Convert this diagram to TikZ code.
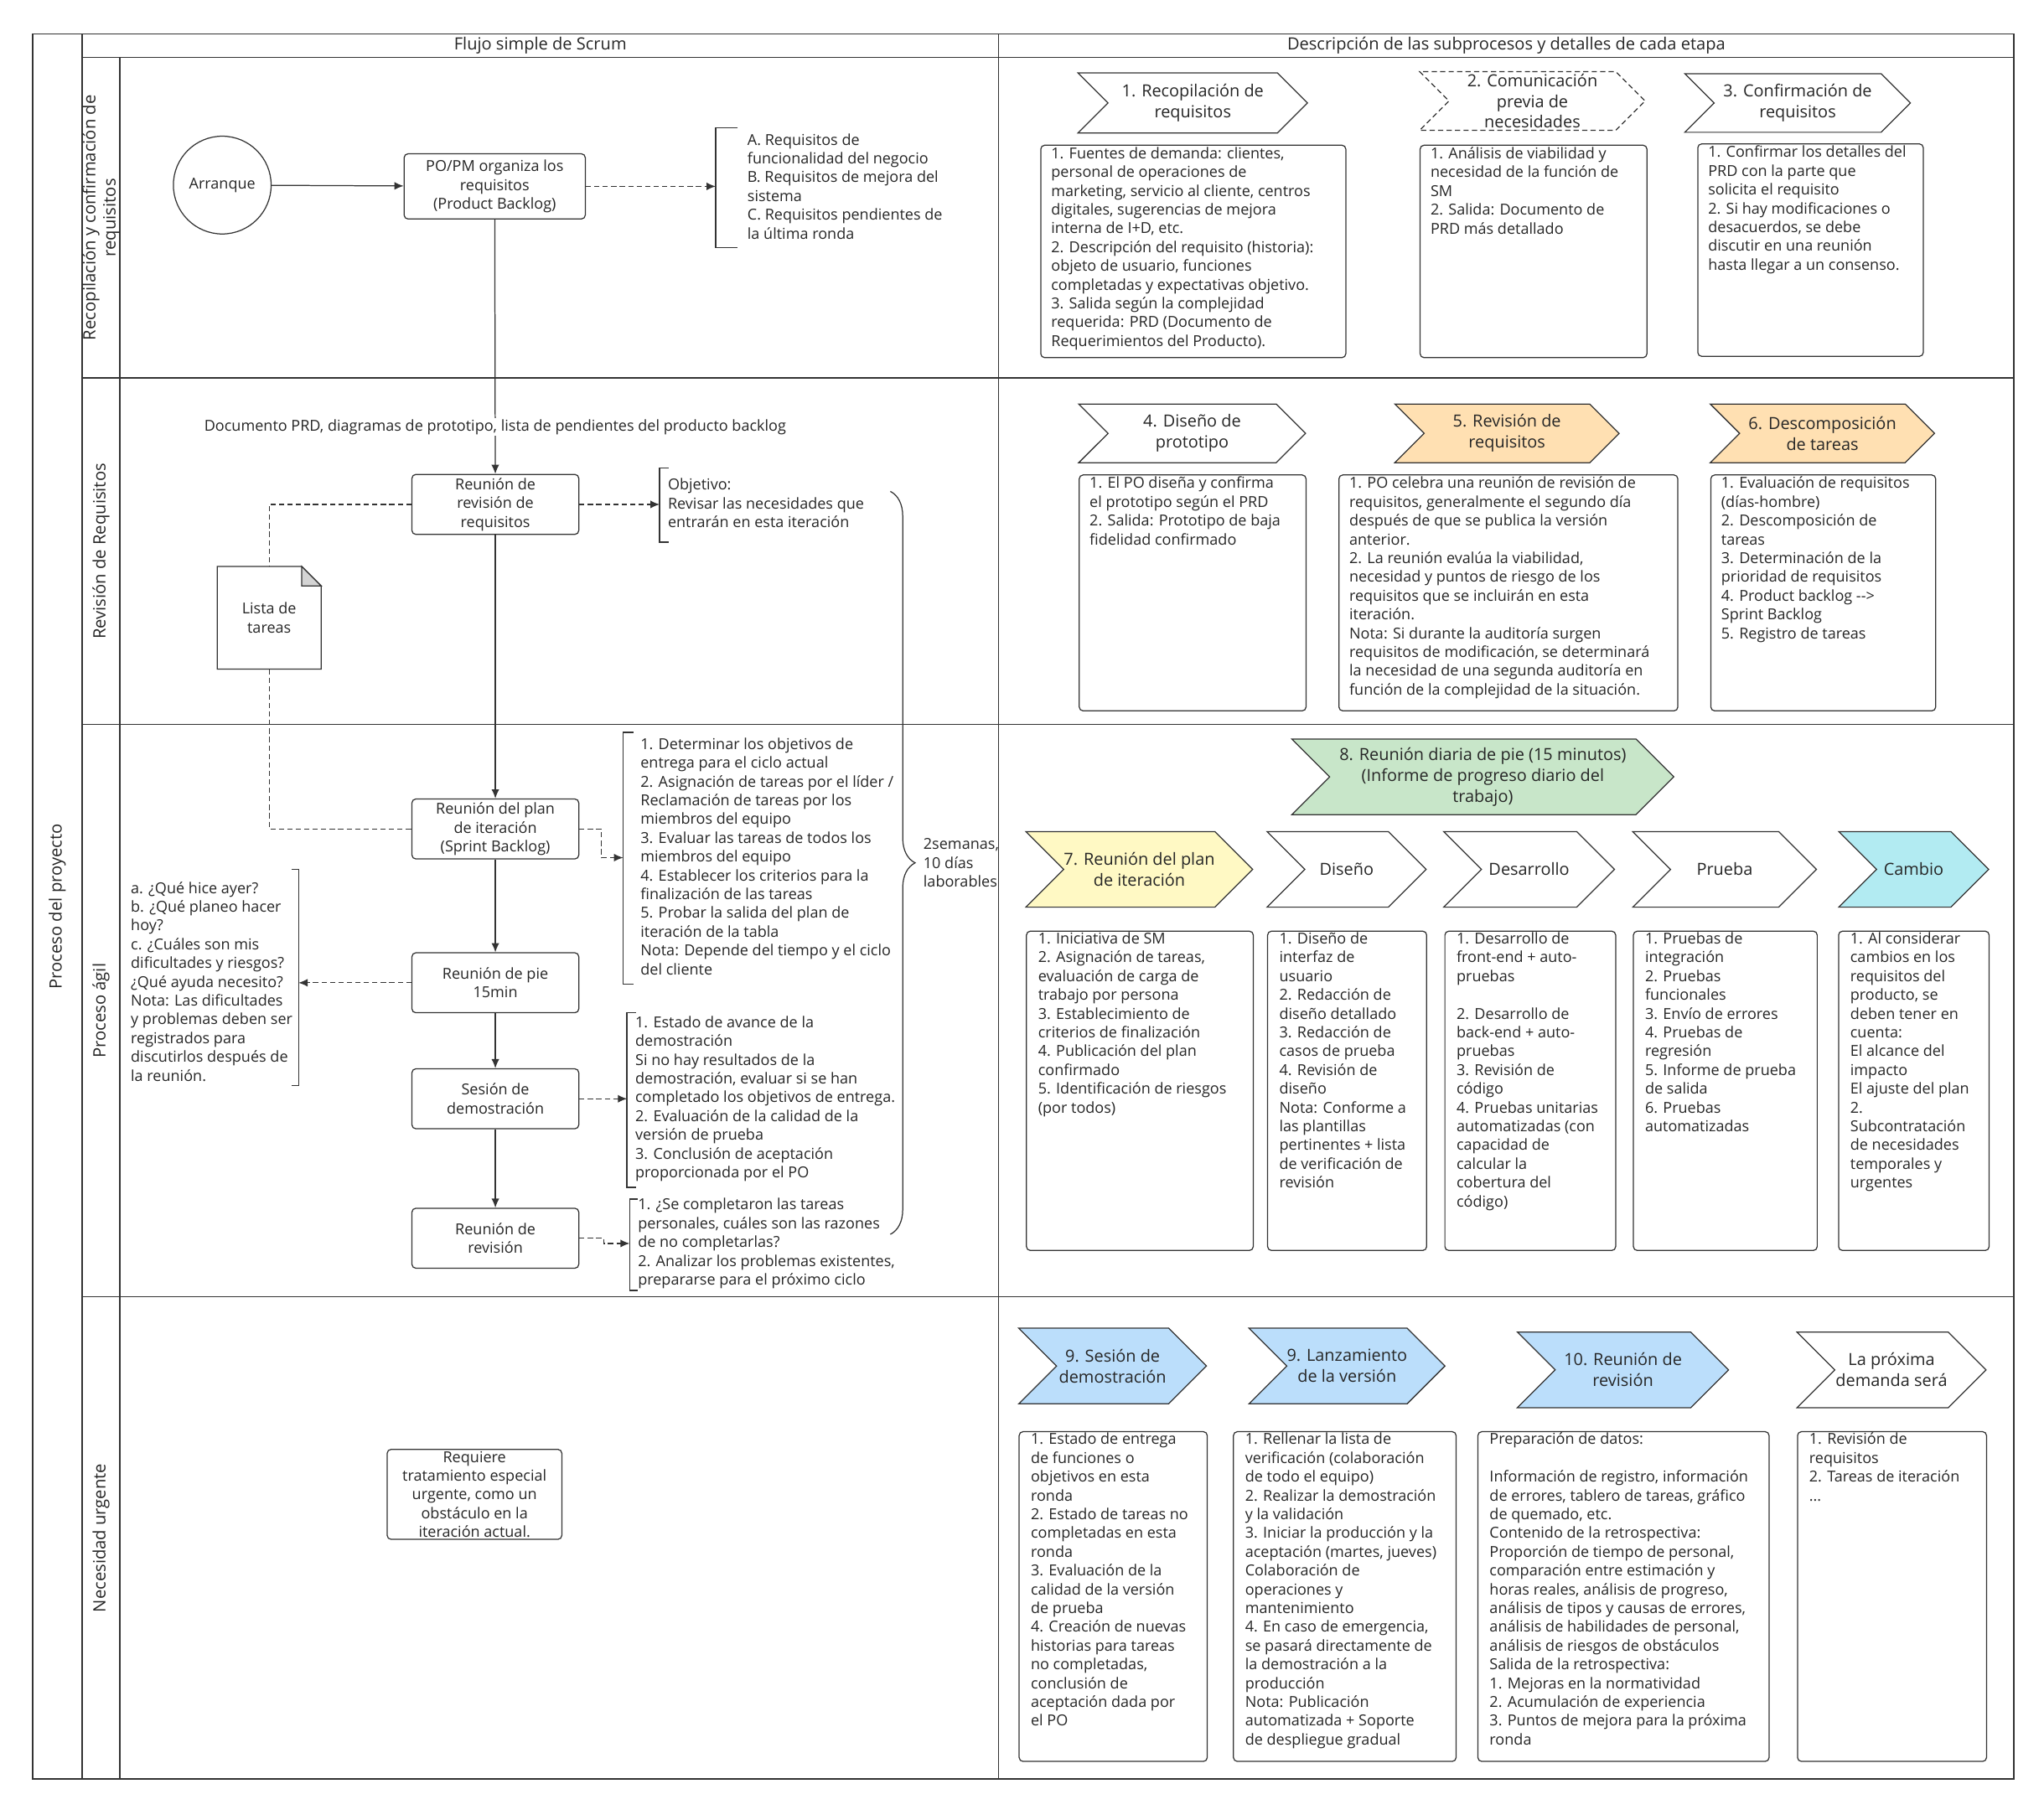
\documentclass[tikz,border=0pt]{standalone}
\usepackage{fontspec}
\setmainfont{Open Sans}
\usetikzlibrary{arrows.meta,shapes.symbols,decorations.pathreplacing,positioning}

\definecolor{lineclr}{HTML}{333333}
\definecolor{txtclr}{HTML}{262626}
\definecolor{peach}{HTML}{FFE0B2}
\definecolor{mint}{HTML}{C8E6C9}
\definecolor{lemon}{HTML}{FFF9C4}
\definecolor{aqua}{HTML}{B2EBF2}
\definecolor{sky}{HTML}{BBDEFB}
\definecolor{foldclr}{HTML}{D4D4D4}

\begin{document}
\begin{tikzpicture}
  [
  x=1pt, y=-1pt, line width=0.8pt, text=txtclr,
  font=\fontsize{11.6}{14.4}\selectfont,
  flowbox/.style={rectangle, rounded corners=3pt, draw=lineclr, fill=white, minimum width=128pt, minimum height=46pt, align=center, inner sep=1pt},
  chev/.style={signal, signal from=west, signal to=east, draw=lineclr, fill=white, align=center, inner sep=0pt, font=\fontsize{12.8}{16}\selectfont},
  descbox/.style={rectangle, rounded corners=3pt, draw=lineclr, inner sep=0pt, anchor=north west},
  desctxt/.style={anchor=north west, align=left, inner sep=0pt},
  bracetxt/.style={anchor=west, align=left, inner sep=0pt},
  lanetxt/.style={rotate=90, align=center, font=\fontsize{13}{15.5}\selectfont},
  flow/.style={draw=lineclr, -{Latex[length=7pt,width=6pt]}},
  dflow/.style={flow, dash pattern=on 4pt off 2.5pt},
  dline/.style={draw=lineclr, dash pattern=on 4pt off 2.5pt},
  bracket/.style={draw=lineclr, line width=0.9pt},
  ]

\useasboundingbox (0,0) rectangle (1568,1396);

% swimlanes
\draw[lineclr, line width=1pt] (25,26) rectangle (1545,1365);
\draw[lineclr, line width=1pt] (63,26) -- (63,1365);
\draw[lineclr] (63,44) -- (1545,44);
\draw[lineclr] (92,44) -- (92,1365);
\draw[lineclr] (766,26) -- (766,1365);
\foreach \y in {290,556,995} {
  \draw[lineclr] (63,\y) -- (1545,\y);
}

\node[font=\fontsize{12.9}{15}\selectfont] (hdl) at (414.5,35) {Flujo simple de Scrum};
\node[font=\fontsize{12.9}{15}\selectfont] (hdr) at (1155.5,35) {Descripción de las subprocesos y detalles de cada etapa};
\node[lanetxt] (proj) at (44,695.5) {Proceso del proyecto};
\node[lanetxt] (lane1) at (77.5,167) {Recopilación y confirmación de\\requisitos};
\node[lanetxt] (lane2) at (77.5,423) {Revisión de Requisitos};
\node[lanetxt] (lane3) at (77.5,775.5) {Proceso ágil};
\node[lanetxt] (lane4) at (77.5,1180) {Necesidad urgente};

% flujo simple
\node[circle, draw=lineclr, minimum size=75pt, inner sep=0pt] (start) at (170.5,142) {Arranque};
\node[flowbox, minimum width=139pt, minimum height=50pt] (popm) at (379.5,143) {PO/PM organiza los\\requisitos\\(Product Backlog)};
\node[bracetxt] (reqs) at (573,143) {A. Requisitos de\\funcionalidad del negocio\\B. Requisitos de mejora del\\sistema\\C. Requisitos pendientes de\\la última ronda};
\coordinate (b1) at (549,143);
\draw[bracket] (566,98) -| (549,190) -- (566,190);

\node[flowbox] (rev) at (380,387) {Reunión de\\revisión de\\requisitos};
\node[bracetxt] (goal) at (512,386) {Objetivo:\\Revisar las necesidades que\\entrarán en esta iteración};
\coordinate (b2) at (506,387);
\draw[bracket] (513,359) -| (506,416) -- (513,416);

\node[minimum width=79pt, minimum height=78pt, align=center, inner sep=0pt] (tl) at (206.5,474) {Lista de\\tareas};
\draw[lineclr] (tl.north west) -- ([xshift=-15pt]tl.north east) -- ([yshift=-15pt]tl.north east) -- (tl.south east) -- (tl.south west) -- cycle;
\draw[lineclr, fill=foldclr] ([xshift=-15pt]tl.north east) -- ([xshift=-15pt,yshift=-15pt]tl.north east) -- ([yshift=-15pt]tl.north east) -- cycle;

\node[flowbox] (plan) at (380,636) {Reunión del plan\\de iteración\\(Sprint Backlog)};
\node[bracetxt] (planlst) at (491,657) {1. Determinar los objetivos de\\entrega para el ciclo actual\\2. Asignación de tareas por el líder /\\Reclamación de tareas por los\\miembros del equipo\\3. Evaluar las tareas de todos los\\miembros del equipo\\4. Establecer los criterios para la\\finalización de las tareas\\5. Probar la salida del plan de\\iteración de la tabla\\Nota: Depende del tiempo y el ciclo\\del cliente};
\coordinate (b3) at (478,658);
\draw[bracket] (486,562) -| (478,755) -- (486,755);

\node[flowbox] (standup) at (380,754) {Reunión de pie\\15min};
\node[bracetxt] (questions) at (100,753) {a. ¿Qué hice ayer?\\b. ¿Qué planeo hacer\\hoy?\\c. ¿Cuáles son mis\\dificultades y riesgos?\\¿Qué ayuda necesito?\\Nota: Las dificultades\\y problemas deben ser\\registrados para\\discutirlos después de\\la reunión.};
\coordinate (b4) at (229,754);
\draw[bracket] (224,667) -| (229,833) -- (224,833);

\node[flowbox] (demo) at (380,843) {Sesión de\\demostración};
\node[bracetxt] (demolst) at (487,843) {1. Estado de avance de la\\demostración\\Si no hay resultados de la\\demostración, evaluar si se han\\completado los objetivos de entrega.\\2. Evaluación de la calidad de la\\versión de prueba\\3. Conclusión de aceptación\\proporcionada por el PO};
\coordinate (b5) at (481,843);
\draw[bracket] (488,777) -| (481,911) -- (488,911);

\node[flowbox] (review) at (380,950) {Reunión de\\revisión};
\node[bracetxt] (revlst) at (489,954) {1. ¿Se completaron las tareas\\personales, cuáles son las razones\\de no completarlas?\\2. Analizar los problemas existentes,\\prepararse para el próximo ciclo};
\coordinate (b6) at (483,954);
\draw[bracket] (489,920) -| (483,990) -- (489,990);

\draw[lineclr, decorate, decoration={brace, amplitude=19pt}] (683,377) -- (683,947);
\node[bracetxt] (dur) at (708,662) {2semanas,\\10 días\\laborables};

\node[flowbox, minimum width=134pt, minimum height=69pt] (urg) at (364,1146.5) {Requiere\\tratamiento especial\\urgente, como un\\obstáculo en la\\iteración actual.};

\draw[flow] (start) -- (popm);
\draw[dflow] (popm) -- (b1);
\draw[flow] (popm) -- node[pos=0.816, fill=white, inner sep=1pt] (prd) {Documento PRD, diagramas de prototipo, lista de pendientes del producto backlog} (rev);
\draw[dflow] (rev) -- (b2);
\draw[dline] (rev.west) -| (tl.north);
\draw[dline] (tl.south) |- (plan.west);
\draw[flow] (rev) -- (plan);
\draw[dflow] (plan.east) -- ++(17,0) |- (b3);
\draw[flow] (plan) -- (standup);
\draw[dflow] (standup) -- (b4);
\draw[flow] (standup) -- (demo);
\draw[dflow] (demo) -- (b5);
\draw[flow] (demo) -- (review);
\draw[dflow] (review.east) -- ++(19,0) |- (b6);

% etapas
\node[chev, minimum width=176pt, minimum height=46pt] (s1) at (915,79) {1. Recopilación de\\requisitos};
\node[chev, minimum width=173pt, minimum height=45pt, dash pattern=on 4pt off 2.5pt] (s2) at (1175.5,77.5) {2. Comunicación\\previa de\\necesidades};
\node[chev, minimum width=173pt, minimum height=45pt] (s3) at (1379,79) {3. Confirmación de\\requisitos};

\node[descbox, minimum width=234pt, minimum height=163pt] (d1) at (798,111) {};
\node[desctxt] (d1t) at ([xshift=8pt,yshift=-1.5pt]d1.north west) {1. Fuentes de demanda: clientes,\\personal de operaciones de\\marketing, servicio al cliente, centros\\digitales, sugerencias de mejora\\interna de I+D, etc.\\2. Descripción del requisito (historia):\\objeto de usuario, funciones\\completadas y expectativas objetivo.\\3. Salida según la complejidad\\requerida: PRD (Documento de\\Requerimientos del Producto).};
\node[descbox, minimum width=174pt, minimum height=163pt] (d2) at (1089,111) {};
\node[desctxt] (d2t) at ([xshift=8pt,yshift=-1.5pt]d2.north west) {1. Análisis de viabilidad y\\necesidad de la función de\\SM\\2. Salida: Documento de\\PRD más detallado};
\node[descbox, minimum width=173pt, minimum height=163pt] (d3) at (1302,110) {};
\node[desctxt] (d3t) at ([xshift=8pt,yshift=-1.5pt]d3.north west) {1. Confirmar los detalles del\\PRD con la parte que\\solicita el requisito\\2. Si hay modificaciones o\\desacuerdos, se debe\\discutir en una reunión\\hasta llegar a un consenso.};

\node[chev, minimum width=174pt, minimum height=45pt] (s4) at (914.5,332.5) {4. Diseño de\\prototipo};
\node[chev, minimum width=172pt, minimum height=45pt, fill=peach] (s5) at (1156,332.5) {5. Revisión de\\requisitos};
\node[chev, minimum width=172pt, minimum height=45pt, fill=peach] (s6) at (1398,332.5) {6. Descomposición\\de tareas};

\node[descbox, minimum width=174pt, minimum height=181pt] (d4) at (827.5,364) {};
\node[desctxt] (d4t) at ([xshift=8pt,yshift=-1.5pt]d4.north west) {1. El PO diseña y confirma\\el prototipo según el PRD\\2. Salida: Prototipo de baja\\fidelidad confirmado};
\node[descbox, minimum width=260pt, minimum height=181pt] (d5) at (1026.7,364) {};
\node[desctxt] (d5t) at ([xshift=8pt,yshift=-1.5pt]d5.north west) {1. PO celebra una reunión de revisión de\\requisitos, generalmente el segundo día\\después de que se publica la versión\\anterior.\\2. La reunión evalúa la viabilidad,\\necesidad y puntos de riesgo de los\\requisitos que se incluirán en esta\\iteración.\\Nota: Si durante la auditoría surgen\\requisitos de modificación, se determinará\\la necesidad de una segunda auditoría en\\función de la complejidad de la situación.};
\node[descbox, minimum width=172.5pt, minimum height=181pt] (d6) at (1312,364) {};
\node[desctxt] (d6t) at ([xshift=8pt,yshift=-1.5pt]d6.north west) {1. Evaluación de requisitos\\(días-hombre)\\2. Descomposición de\\tareas\\3. Determinación de la\\prioridad de requisitos\\4. Product backlog -{}-{}>\\Sprint Backlog\\5. Registro de tareas};

\node[chev, minimum width=293pt, minimum height=58pt, fill=mint] (s8) at (1137.5,596) {8. Reunión diaria de pie (15 minutos)\\(Informe de progreso diario del\\trabajo)};
\node[chev, minimum width=174pt, minimum height=58pt, fill=lemon] (s7) at (874,667) {7. Reunión del plan\\de iteración};
\node[chev, minimum width=122pt, minimum height=58pt] (sdis) at (1033,667) {Diseño};
\node[chev, minimum width=131pt, minimum height=58pt] (sdes) at (1173,667) {Desarrollo};
\node[chev, minimum width=141pt, minimum height=58pt] (spru) at (1323,667) {Prueba};
\node[chev, minimum width=115pt, minimum height=58pt, fill=aqua] (scam) at (1468,667) {Cambio};

\node[descbox, minimum width=174pt, minimum height=245pt] (d7) at (787,714) {};
\node[desctxt] (d7t) at ([xshift=9pt,yshift=-1pt]d7.north west) {1. Iniciativa de SM\\2. Asignación de tareas,\\evaluación de carga de\\trabajo por persona\\3. Establecimiento de\\criterios de finalización\\4. Publicación del plan\\confirmado\\5. Identificación de riesgos\\(por todos)};
\node[descbox, minimum width=122pt, minimum height=245pt] (ddis) at (972,714) {};
\node[desctxt] (ddist) at ([xshift=9pt,yshift=-1pt]ddis.north west) {1. Diseño de\\interfaz de\\usuario\\2. Redacción de\\diseño detallado\\3. Redacción de\\casos de prueba\\4. Revisión de\\diseño\\Nota: Conforme a\\las plantillas\\pertinentes + lista\\de verificación de\\revisión};
\node[descbox, minimum width=131pt, minimum height=245pt] (ddes) at (1108,714) {};
\node[desctxt] (ddest) at ([xshift=9pt,yshift=-1pt]ddes.north west) {1. Desarrollo de\\front-end + auto-\\pruebas\\[14.4pt]2. Desarrollo de\\back-end + auto-\\pruebas\\3. Revisión de\\código\\4. Pruebas unitarias\\automatizadas (con\\capacidad de\\calcular la\\cobertura del\\código)};
\node[descbox, minimum width=141pt, minimum height=245pt] (dpru) at (1252.6,714) {};
\node[desctxt] (dprut) at ([xshift=9pt,yshift=-1pt]dpru.north west) {1. Pruebas de\\integración\\2. Pruebas\\funcionales\\3. Envío de errores\\4. Pruebas de\\regresión\\5. Informe de prueba\\de salida\\6. Pruebas\\automatizadas};
\node[descbox, minimum width=115.5pt, minimum height=245pt] (dcam) at (1410,714) {};
\node[desctxt] (dcamt) at ([xshift=9pt,yshift=-1pt]dcam.north west) {1. Al considerar\\cambios en los\\requisitos del\\producto, se\\deben tener en\\cuenta:\\El alcance del\\impacto\\El ajuste del plan\\2.\\Subcontratación\\de necesidades\\temporales y\\urgentes};

\node[chev, minimum width=144pt, minimum height=58pt, fill=sky] (s9) at (853.5,1048) {9. Sesión de\\demostración};
\node[chev, minimum width=145pt, minimum height=58pt, fill=sky] (s9b) at (1033.3,1048) {9. Lanzamiento\\de la versión};
\node[chev, minimum width=162pt, minimum height=58pt, fill=sky] (s10) at (1245,1051) {10. Reunión de\\revisión};
\node[chev, minimum width=145pt, minimum height=58pt] (snext) at (1451,1051) {La próxima\\demanda será};

\node[descbox, minimum width=144.3pt, minimum height=253pt] (d9) at (781.4,1098) {};
\node[desctxt] (d9t) at ([xshift=9pt,yshift=-1pt]d9.north west) {1. Estado de entrega\\de funciones o\\objetivos en esta\\ronda\\2. Estado de tareas no\\completadas en esta\\ronda\\3. Evaluación de la\\calidad de la versión\\de prueba\\4. Creación de nuevas\\historias para tareas\\no completadas,\\conclusión de\\aceptación dada por\\el PO};
\node[descbox, minimum width=170.8pt, minimum height=253pt] (d9b) at (945.8,1098) {};
\node[desctxt] (d9bt) at ([xshift=9pt,yshift=-1pt]d9b.north west) {1. Rellenar la lista de\\verificación (colaboración\\de todo el equipo)\\2. Realizar la demostración\\y la validación\\3. Iniciar la producción y la\\aceptación (martes, jueves)\\Colaboración de\\operaciones y\\mantenimiento\\4. En caso de emergencia,\\se pasará directamente de\\la demostración a la\\producción\\Nota: Publicación\\automatizada + Soporte\\de despliegue gradual};
\node[descbox, minimum width=223.4pt, minimum height=253pt] (d10) at (1133.3,1098) {};
\node[desctxt] (d10t) at ([xshift=9pt,yshift=-1pt]d10.north west) {Preparación de datos:\\[14.4pt]Información de registro, información\\de errores, tablero de tareas, gráfico\\de quemado, etc.\\Contenido de la retrospectiva:\\Proporción de tiempo de personal,\\comparación entre estimación y\\horas reales, análisis de progreso,\\análisis de tipos y causas de errores,\\análisis de habilidades de personal,\\análisis de riesgos de obstáculos\\Salida de la retrospectiva:\\1. Mejoras en la normatividad\\2. Acumulación de experiencia\\3. Puntos de mejora para la próxima\\ronda};
\node[descbox, minimum width=145pt, minimum height=253pt] (dnext) at (1378.5,1098) {};
\node[desctxt] (dnextt) at ([xshift=9pt,yshift=-1pt]dnext.north west) {1. Revisión de\\requisitos\\2. Tareas de iteración\\...};
\end{tikzpicture}
\end{document}
